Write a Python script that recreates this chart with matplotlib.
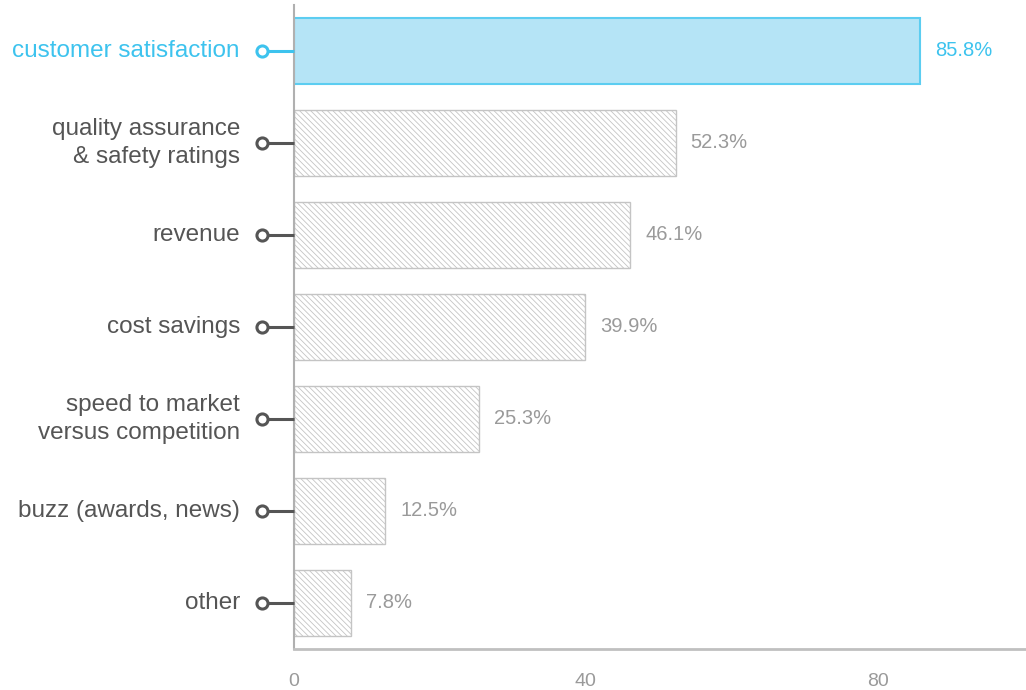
import matplotlib.pyplot as plt
import matplotlib.transforms as mtransforms

plt.rcParams['font.family'] = ['Liberation Sans', 'DejaVu Sans']
plt.rcParams['hatch.linewidth'] = 0.6

categories = [
    "customer satisfaction",
    "quality assurance\n& safety ratings",
    "revenue",
    "cost savings",
    "speed to market\nversus competition",
    "buzz (awards, news)",
    "other",
]
values = [85.8, 52.3, 46.1, 39.9, 25.3, 12.5, 7.8]
highlight = 0
x_ticks = [0, 40, 80]

blue = '#3dc3ee'
blue_fill = '#b5e4f6'
label_grey = '#555555'
value_grey = '#9a9a9a'

fig = plt.figure(figsize=(10.26, 6.9), dpi=100)
ax = fig.add_axes([294 / 1026, 41 / 690, 732 / 1026, 644 / 690])

for i, (cat, v) in enumerate(zip(categories, values)):
    if i == highlight:
        ax.barh(i, v, height=0.72, color=blue_fill, edgecolor='#5ccdf1', linewidth=1.5, zorder=2)
        col = blue
        vcol = blue
    else:
        ax.barh(i, v, height=0.72, color='white', edgecolor='#c4c4c4', hatch='\\' * 6,
                linewidth=1.0, zorder=2)
        col = label_grey
        vcol = value_grey
    ax.annotate(f"{v}%", (v, i), xytext=(15, 0), textcoords='offset pixels',
                ha='left', va='center', fontsize=14.5, color=vcol)

    # label with a small circle-and-stem pointer into the axis
    trans = mtransforms.blended_transform_factory(ax.transAxes, ax.transData)
    ax.plot([-0.036, 0], [i, i], color=col, lw=2.2, transform=trans, clip_on=False,
            solid_capstyle='butt', zorder=3)
    ax.plot([-0.0435], [i], marker='o', markersize=8, markerfacecolor='white',
            markeredgecolor=col, markeredgewidth=2.2, transform=trans, clip_on=False, zorder=4)
    ax.text(-0.0738, i, cat, transform=trans, ha='right', va='center', fontsize=17.5,
            color=col, linespacing=1.35, multialignment='right')

ax.set_xlim(0, 100.3)
ax.set_ylim(6.5, -0.5)
ax.set_yticks([])
ax.set_xticks(x_ticks)
ax.tick_params(axis='x', length=0, pad=17, labelsize=14, labelcolor=value_grey)

for s in ['top', 'right']:
    ax.spines[s].set_visible(False)
ax.spines['left'].set_color('#b0b0b0')
ax.spines['left'].set_linewidth(1.5)
ax.spines['bottom'].set_color('#c0c0c0')
ax.spines['bottom'].set_linewidth(2)

fig.savefig('out.png', dpi=100)
